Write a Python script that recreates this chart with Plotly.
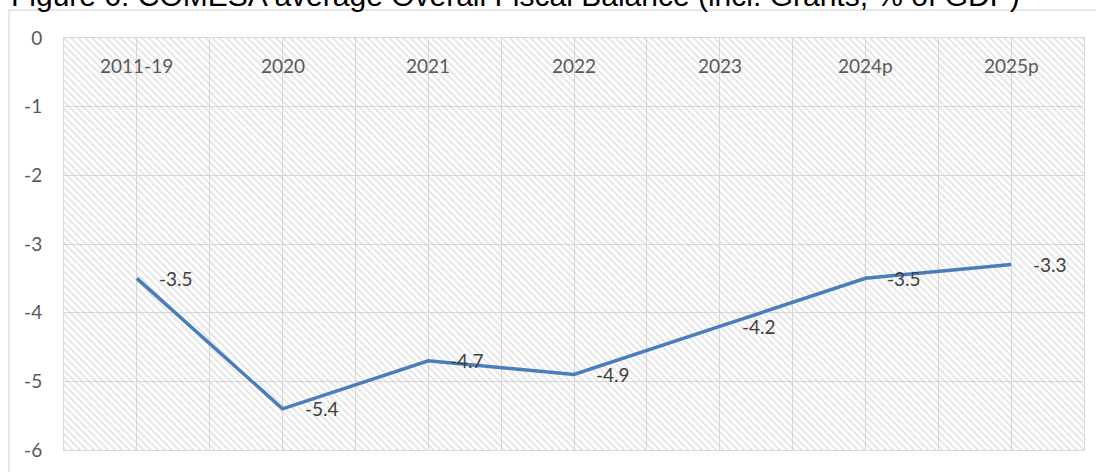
import plotly.graph_objects as go

# Overall fiscal balance, incl. grants, as % of GDP
periods = ["2011-19", "2020", "2021", "2022", "2023", "2024p", "2025p"]
balance = [-3.5, -5.4, -4.7, -4.9, -4.2, -3.5, -3.3]
y_ticks = [0, -1, -2, -3, -4, -5, -6]

title_text = "Figure 6: COMESA average Overall Fiscal Balance (incl. Grants, % of GDP)"

W, H = 1096, 472
M_L, M_R, M_T, M_B = 64, 11, 38, 20
plot_w = W - M_L - M_R
plot_h = H - M_T - M_B

GRID = "#d9d9d9"
LINE = "#4a7ebb"
LABEL_FONT = "Lato"

x_idx = list(range(len(periods)))
y_lo, y_hi = min(y_ticks), max(y_ticks)


def px_to_paper_x(px):
    return (px - M_L) / plot_w


def px_to_paper_y(py):
    return 1 - (py - M_T) / plot_h


fig = go.Figure()

# hatched plot-area fill
fig.add_trace(go.Bar(
    x=[(len(periods) - 1) / 2], y=[y_lo - y_hi], base=[y_hi],
    width=[len(periods)],
    marker=dict(color="rgba(0,0,0,0)", line=dict(width=0),
                pattern=dict(shape="\\", fgcolor="#cbcbcb", size=5, solidity=0.4)),
    hoverinfo="skip", showlegend=False,
))

fig.add_trace(go.Scatter(
    x=x_idx, y=balance, mode="lines",
    line=dict(color=LINE, width=3.5),
    showlegend=False,
))

annotations = []
# value labels to the right of each point
for i, v in zip(x_idx, balance):
    annotations.append(dict(
        x=i, y=v, xref="x", yref="y", text=f"{v:.1f}", showarrow=False,
        xanchor="center", yanchor="middle", xshift=39,
        font=dict(family=LABEL_FONT, size=19, color="#404040"),
    ))
# period labels along the top of the plot area
for i, p in zip(x_idx, periods):
    annotations.append(dict(
        x=i, y=px_to_paper_y(66), xref="x", yref="paper", text=p, showarrow=False,
        xanchor="center", yanchor="middle",
        font=dict(family=LABEL_FONT, size=19, color="#595959"),
    ))
# figure title
annotations.append(dict(
    x=px_to_paper_x(9), y=px_to_paper_y(-5), xref="paper", yref="paper",
    text=title_text, showarrow=False, xanchor="left", yanchor="middle",
    font=dict(family="Liberation Sans, Arial", size=30, color="#000000"),
))

shapes = [dict(
    type="rect", xref="paper", yref="paper",
    x0=px_to_paper_x(9), x1=px_to_paper_x(W + 10),
    y0=px_to_paper_y(H + 10), y1=px_to_paper_y(10),
    line=dict(color=GRID, width=1.2), fillcolor="rgba(0,0,0,0)", layer="below",
)]

fig.update_layout(
    width=W, height=H,
    margin=dict(l=M_L, r=M_R, t=M_T, b=M_B, pad=0),
    paper_bgcolor="white", plot_bgcolor="white",
    bargap=0,
    annotations=annotations, shapes=shapes,
    xaxis=dict(
        range=[-0.5, len(periods) - 0.5], tick0=-0.5, dtick=0.5,
        showticklabels=False, ticks="", showgrid=True, gridcolor=GRID, gridwidth=1,
        zeroline=False, showline=True, mirror=True, linecolor=GRID, linewidth=1,
        fixedrange=True,
    ),
    yaxis=dict(
        range=[y_lo, y_hi], tickvals=y_ticks, ticktext=[str(t) for t in y_ticks],
        showgrid=True, gridcolor=GRID, gridwidth=1, zeroline=False,
        showline=True, mirror=True, linecolor=GRID, linewidth=1,
        ticks="outside", ticklen=17, tickcolor="rgba(0,0,0,0)",
        tickfont=dict(family=LABEL_FONT, size=19, color="#595959"),
        fixedrange=True,
    ),
)

fig.write_html("out.html")
